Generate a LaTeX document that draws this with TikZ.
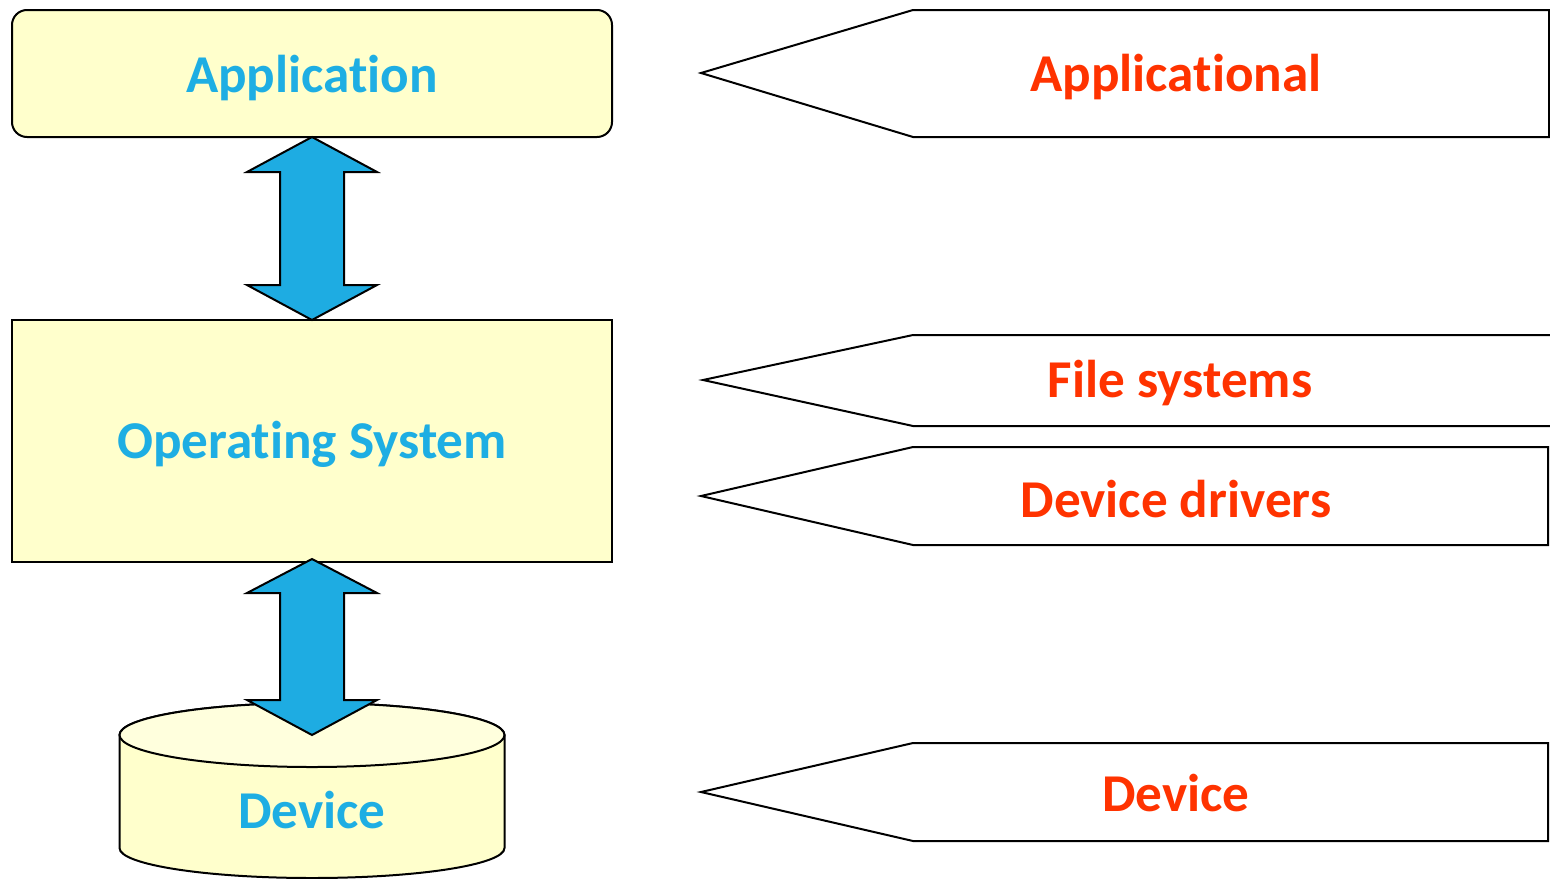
\documentclass[tikz,border=0pt]{standalone}
\usepackage{fontspec}
\setmainfont{Carlito}[Ligatures={NoCommon,NoRequired,NoContextual}]
\usetikzlibrary{calc}
\definecolor{boxfill}{HTML}{FFFFCC}
\definecolor{cyltop}{HTML}{FFFFDD}
\definecolor{arrowblue}{HTML}{1EACE2}
\definecolor{textblue}{HTML}{1EAEE3}
\definecolor{textred}{HTML}{FF3300}
\begin{document}
\begin{tikzpicture}[x=0.5pt,y=-0.5pt,
  line width=1pt,
  bluetext/.style={font=\fontsize{26.6}{32}\selectfont\bfseries, text=textblue},
  redtext/.style={font=\fontsize{26.6}{32}\selectfont\bfseries, text=textred},
  ybox/.style={draw=black, fill=boxfill, inner sep=0pt, outer sep=0pt},
  barrow/.style={draw=black, fill=arrowblue, line join=miter},
  tag/.style={draw=black, fill=white, line join=miter}]
\useasboundingbox (0,0) rectangle (1550,878);
\coordinate (axis) at (312,0);
% boxes
\node[ybox, rounded corners=7.5pt, minimum width=300pt, minimum height=63.5pt, anchor=north west] (app) at (12,10) {};
\node[bluetext] (applabel) at (312,78) {Application};
\node[ybox, minimum width=300pt, minimum height=121pt, anchor=north west] (os) at (12,320) {};
\node[bluetext] (oslabel) at (312,444) {Operating System};
% cylinder
\filldraw[fill=boxfill] (119.5,735) -- (119.5,848) arc[start angle=180, end angle=0, x radius=192.5, y radius=30] -- (504.5,735) arc[start angle=0, end angle=-180, x radius=192.5, y radius=32] -- cycle;
\filldraw[fill=cyltop] (312,735) ellipse[x radius=192.5, y radius=32];
\coordinate (devtop) at (312,735);
\node[bluetext] (devlabel) at (312,810) {Device};
% double-arrow end points on the common axis
\coordinate (a1) at (app.south -| axis);
\coordinate (a2) at (os.north -| axis);
\coordinate (b1) at ($(os.south -| axis)+(0,-3)$);
\coordinate (b2) at (devtop);
% double arrows
\draw[barrow] (a1) -- ++(65,35) -- ++(-33,0) -- ($(a2)+(32,-35)$) -- ++(33,0) -- (a2) -- ++(-65,-35) -- ++(33,0) -- ($(a1)+(-32,35)$) -- ++(-33,0) -- cycle;
\draw[barrow] (b1) -- ++(65,34) -- ++(-33,0) -- ($(b2)+(32,-35)$) -- ++(33,0) -- (b2) -- ++(-65,-35) -- ++(33,0) -- ($(b1)+(-32,34)$) -- ++(-33,0) -- cycle;
% tags
\draw[tag] (1549,10) -- (913,10) -- (701,73) -- (913,137) -- (1549,137) -- cycle;
\node[redtext] (t1) at (1176,77) {Applicational};
\draw[tag] (1551,335) -- (913,335) -- (703,380) -- (913,426) -- (1551,426);
\node[redtext] (t2) at (1180,383) {File systems};
\draw[tag] (1548,447) -- (913,447) -- (701,496) -- (913,545) -- (1548,545) -- cycle;
\node[redtext] (t3) at (1176,499) {Device drivers};
\draw[tag] (1548,743) -- (913,743) -- (701,792) -- (913,841) -- (1548,841) -- cycle;
\node[redtext] (t4) at (1176,793) {Device};
\end{tikzpicture}
\end{document}
